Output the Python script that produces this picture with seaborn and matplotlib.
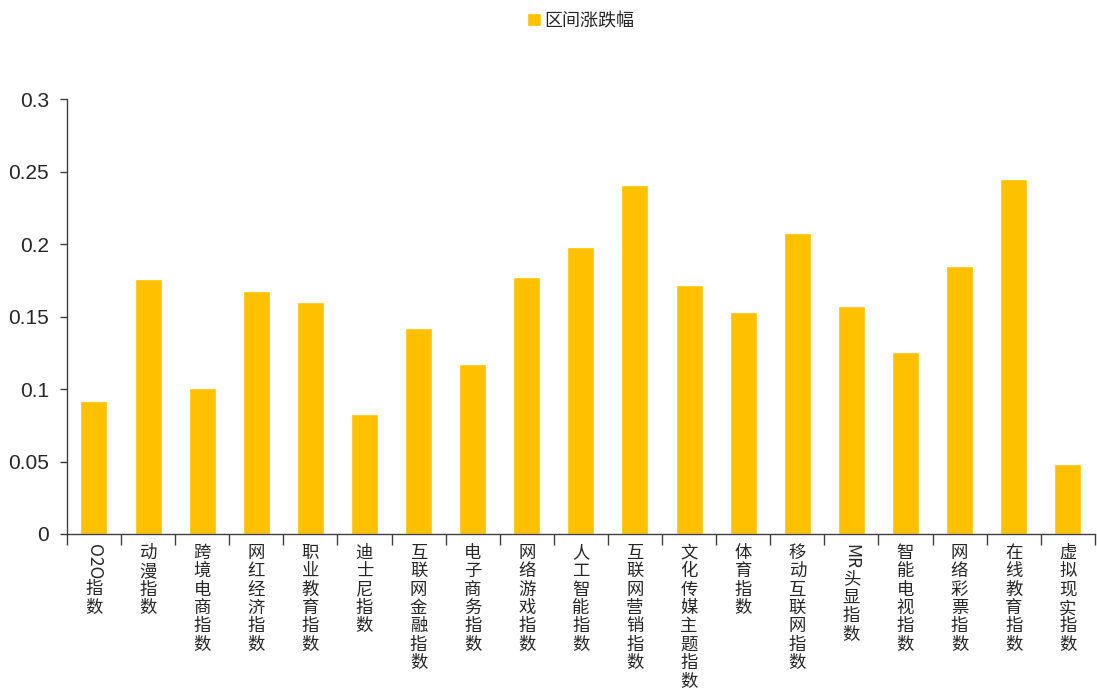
import matplotlib
matplotlib.use('Agg')
import matplotlib.pyplot as plt
import seaborn as sns
import numpy as np
import pandas as pd

# ── DATA ────────────────────────────────────────────────────────────────────
categories = ['O2O指数', '动漫指数', '跨境电商指数', '网红经济指数', '职业教育指数',
              '迪士尼指数', '互联网金融指数', '电子商务指数', '网络游戏指数', '人工智能指数',
              '互联网营销指数', '文化传媒主题指数', '体育指数', '移动互联网指数', 'MR头显指数',
              '智能电视指数', '网络彩票指数', '在线教育指数', '虚拟现实指数']
values = [0.092, 0.176, 0.101, 0.168, 0.160,
          0.083, 0.142, 0.117, 0.177, 0.198,
          0.241, 0.172, 0.153, 0.208, 0.157,
          0.1255, 0.185, 0.245, 0.048]
yticks = [0, 0.05, 0.1, 0.15, 0.2, 0.25, 0.3]
ytick_labels = ['0', '0.05', '0.1', '0.15', '0.2', '0.25', '0.3']
series_name = '区间涨跌幅'

BAR_COLOR = '#FFC000'
TEXT_COLOR = '#262626'
AXIS_COLOR = '#404040'

sns.set_theme(style='white')
plt.rcParams['font.family'] = ['Noto Sans CJK SC', 'DejaVu Sans']

df = pd.DataFrame({'cat': categories, 'val': values})

fig = plt.figure(figsize=(10.97, 6.89), dpi=100)
ax = fig.add_axes([0.061, 0.225, 0.937, 0.631])

sns.barplot(data=df, x='cat', y='val', color=BAR_COLOR, width=0.5,
            saturation=1, label=series_name, ax=ax)

ax.set_xlim(-0.5, len(categories) - 0.5)
ax.set_ylim(0, 0.3)
ax.set_yticks(yticks)
ax.set_yticklabels(ytick_labels, fontsize=15, color=TEXT_COLOR,
                   family=['Liberation Sans', 'DejaVu Sans'])
ax.set_xlabel('')
ax.set_ylabel('')

for s in ['top', 'right']:
    ax.spines[s].set_visible(False)
for s in ['left', 'bottom']:
    ax.spines[s].set_color(AXIS_COLOR)
    ax.spines[s].set_linewidth(1.0)

ax.tick_params(axis='y', which='major', direction='out', length=5, width=1,
               color=AXIS_COLOR, left=True, pad=8)
# x ticks sit on category boundaries
ax.set_xticks(np.arange(len(categories) + 1) - 0.5)
ax.set_xticklabels([])
ax.tick_params(axis='x', which='major', direction='out', length=8, width=1,
               color=AXIS_COLOR, bottom=True)

# vertical stacked labels (latin runs rotated, chinese chars stacked)
fig.canvas.draw()
renderer = fig.canvas.get_renderer()
for i, lab in enumerate(categories):
    latin = ''
    for ch in lab:
        if ch.isascii():
            latin += ch
        else:
            break
    rest = lab[len(latin):]
    off = -7
    if latin:
        t = ax.annotate(latin, xy=(i, 0), xycoords=('data', 'axes fraction'),
                        xytext=(0, off), textcoords='offset points',
                        rotation=-90, ha='center', va='top', fontsize=12.5,
                        color=TEXT_COLOR)
        bb = t.get_window_extent(renderer)
        off -= bb.height * 72 / fig.dpi + 1
    ax.annotate('\n'.join(rest), xy=(i, 0), xycoords=('data', 'axes fraction'),
                xytext=(0, off), textcoords='offset points',
                ha='center', va='top', fontsize=12.5, linespacing=1.03,
                color=TEXT_COLOR)

leg = ax.legend(loc='center', bbox_to_anchor=(0.5, 1.18), frameon=False,
                fontsize=13, handlelength=0.75, handleheight=0.75,
                handletextpad=0.2)
for t in leg.get_texts():
    t.set_color(TEXT_COLOR)

plt.savefig('out.png', dpi=100, facecolor='white')
